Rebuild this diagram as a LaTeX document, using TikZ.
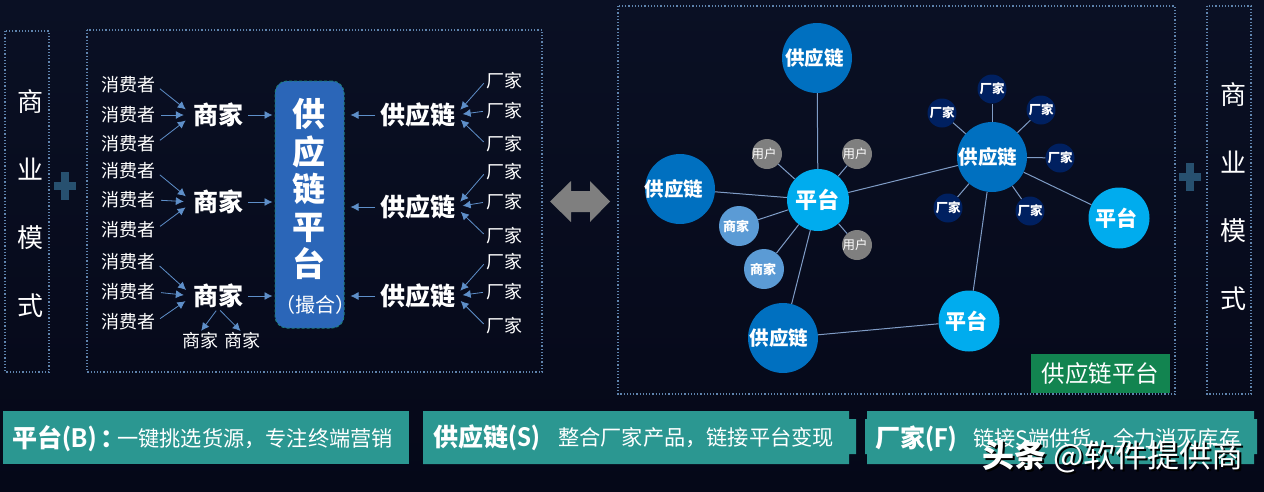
\documentclass[tikz,border=0pt]{standalone}
\usepackage{fontspec}
\setmainfont{Noto Sans CJK SC}
\newfontfamily\latinfont{Carlito}
\usetikzlibrary{arrows.meta}
\definecolor{bgtop}{HTML}{0A1024}
\definecolor{bgbot}{HTML}{050818}
\definecolor{dotline}{HTML}{5F84AE}
\definecolor{arrowblue}{HTML}{5E8FC9}
\definecolor{linkblue}{HTML}{7F9CC6}
\definecolor{barteal}{HTML}{2B9791}
\definecolor{plusblue}{HTML}{27506F}
\definecolor{supplyblue}{HTML}{0070C0}
\definecolor{platformblue}{HTML}{00ACEE}
\definecolor{shopblue}{HTML}{5B9BD5}
\definecolor{usergray}{HTML}{7F7F7F}
\definecolor{makerblue}{HTML}{002060}
\definecolor{hubblue}{HTML}{2B66B8}
\definecolor{hubedge}{HTML}{1E7D7D}
\definecolor{tagreen}{HTML}{128450}
\newcommand{\fs}[1]{\fontsize{#1}{#1}\selectfont}
\newcommand{\lab}[2]{\makebox[0pt][c]{#2\kern#1pt}}
\begin{document}
\begin{tikzpicture}[x=1pt,y=-1pt]
    \tikzstyle{every node}=[inner sep=0pt, text=white];
    \tikzstyle{frame}=[draw=dotline, line width=1.2pt, dotted];
    \tikzstyle{conn}=[draw=arrowblue, line width=0.8pt, -{Latex[length=8pt,width=8pt]}];
    \tikzstyle{link}=[draw=linkblue, line width=1pt];
    \tikzstyle{small}=[font=\fs{18}, yshift=-1pt];
    \tikzstyle{head}=[font=\fs{25}\bfseries];
    \tikzstyle{vtext}=[font=\fontsize{26}{68}\selectfont, align=center];
    \tikzstyle{bartext}=[font=\fs{21.2}, anchor=west];
    \tikzstyle{barhead}=[font=\fs{25}\bfseries, anchor=west];
    \tikzstyle{ball}=[shape=circle];
    \tikzstyle{supply}=[ball, fill=supplyblue, minimum size=70pt, font=\fs{19.5}\bfseries];
    \tikzstyle{platform}=[ball, fill=platformblue, font=\fs{22}\bfseries];
    \tikzstyle{shop}=[ball, fill=shopblue, minimum size=40pt, font=\fs{13}\bfseries];
    \tikzstyle{user}=[ball, fill=usergray, minimum size=30pt, font=\fs{12.5}];
    \tikzstyle{maker}=[ball, fill=makerblue, minimum size=29pt, font=\fs{12.5}\bfseries];
    \tikzstyle{plusmark}=[draw=plusblue, line width=8pt];
    % background
    \shade[top color=bgtop, bottom color=bgbot] (0,0) rectangle (1264,491);
    \useasboundingbox (0,0) rectangle (1264,491);
    % frames
    \draw[frame] (5,31) rectangle (49,372);
    \draw[frame] (87,30) rectangle (542,372);
    \draw[frame] (618,6) rectangle (1175,394);
    \draw[frame] (1207,6) rectangle (1251,394);
    \node[vtext] (lmodel) at (30,204) {商\\业\\模\\式};
    \node[vtext] (rmodel) at (1233,197) {商\\业\\模\\式};
    \draw[plusmark] (54,186)--(76,186);
    \draw[plusmark] (65,172)--(65,200);
    \draw[plusmark] (1179,177)--(1201,177);
    \draw[plusmark] (1190,163)--(1190,191);
    % left part
    \node[small] (c1) at (128,84) {消费者};
    \node[small] (c2) at (128,114) {消费者};
    \node[small] (c3) at (128,143) {消费者};
    \node[small] (c4) at (128,170) {消费者};
    \node[small] (c5) at (128,199) {消费者};
    \node[small] (c6) at (128,229) {消费者};
    \node[small] (c7) at (128,261) {消费者};
    \node[small] (c8) at (128,291) {消费者};
    \node[small] (c9) at (128,321) {消费者};
    \node[head] (s1) at (218,115) {商家};
    \node[head] (s2) at (218,202) {商家};
    \node[head] (s3) at (218,296) {商家};
    \node[small] (s4) at (200,340) {商家};
    \node[small] (s5) at (242,340) {商家};
    \node[draw=hubedge, densely dashed, line width=1pt, fill=hubblue, rounded corners=12pt, minimum width=69pt, minimum height=247pt] (hub) at (309.5,204.5) {};
    \node[font=\fontsize{33}{37.5}\selectfont\bfseries, align=center] (hubtext) at (309,189) {供\\应\\链\\平\\台};
    \node[font=\fs{20}] (hubnote) at (315,305) {（撮合）};
    \node[head] (g1) at (418,115) {供应链};
    \node[head] (g2) at (418,207) {供应链};
    \node[head] (g3) at (418,296) {供应链};
    \node[small] (f1) at (504,80) {厂家};
    \node[small] (f2) at (504,110) {厂家};
    \node[small] (f3) at (504,143) {厂家};
    \node[small] (f4) at (504,171) {厂家};
    \node[small] (f5) at (504,201) {厂家};
    \node[small] (f6) at (504,235) {厂家};
    \node[small] (f7) at (504,261) {厂家};
    \node[small] (f8) at (504,291) {厂家};
    \node[small] (f9) at (504,325) {厂家};
    \draw[conn, shorten <=6pt, shorten >=9pt] (c1.east)--(s1.west);
    \draw[conn, shorten <=6pt, shorten >=9pt] (c2.east)--(s1.west);
    \draw[conn, shorten <=6pt, shorten >=9pt] (c3.east)--(s1.west);
    \draw[conn, shorten <=6pt, shorten >=9pt] (c4.east)--(s2.west);
    \draw[conn, shorten <=6pt, shorten >=9pt] (c5.east)--(s2.west);
    \draw[conn, shorten <=6pt, shorten >=9pt] (c6.east)--(s2.west);
    \draw[conn, shorten <=6pt, shorten >=9pt] (c7.east)--(s3.west);
    \draw[conn, shorten <=6pt, shorten >=9pt] (c8.east)--(s3.west);
    \draw[conn, shorten <=6pt, shorten >=9pt] (c9.east)--(s3.west);
    \draw[conn, shorten <=5pt, shorten >=2pt] (s1.east)--(hub.west |- s1.east);
    \draw[conn, shorten <=5pt, shorten >=2pt] (s2.east)--(hub.west |- s2.east);
    \draw[conn, shorten <=5pt, shorten >=2pt] (s3.east)--(hub.west |- s3.east);
    \draw[conn, shorten <=5pt, shorten >=6pt] (g1.west)--(hub.east |- g1.west);
    \draw[conn, shorten <=5pt, shorten >=6pt] (g2.west)--(hub.east |- g2.west);
    \draw[conn, shorten <=5pt, shorten >=6pt] (g3.west)--(hub.east |- g3.west);
    \draw[conn, shorten <=3pt, shorten >=7pt] (f1.west)--(g1.east);
    \draw[conn, shorten <=3pt, shorten >=7pt] (f2.west)--(g1.east);
    \draw[conn, shorten <=3pt, shorten >=7pt] (f3.west)--(g1.east);
    \draw[conn, shorten <=3pt, shorten >=7pt] (f4.west)--(g2.east);
    \draw[conn, shorten <=3pt, shorten >=7pt] (f5.west)--(g2.east);
    \draw[conn, shorten <=3pt, shorten >=7pt] (f6.west)--(g2.east);
    \draw[conn, shorten <=3pt, shorten >=7pt] (f7.west)--(g3.east);
    \draw[conn, shorten <=3pt, shorten >=7pt] (f8.west)--(g3.east);
    \draw[conn, shorten <=3pt, shorten >=7pt] (f9.west)--(g3.east);
    \draw[conn, shorten <=3pt, shorten >=2pt] (s3.south)--(s4.north);
    \draw[conn, shorten <=3pt, shorten >=2pt] (s3.south)--(s5.north);
    % double arrow
    \fill[usergray] (550,201.5)--(571,181)--(571,191)--(590,191)--(590,181)--(610,201.5)--(590,222)--(590,212)--(571,212)--(571,222)--cycle;
    % right part
    \node[supply] (n1) at (817,58) {\lab{5}{供应链}};
    \node[supply] (n2) at (680,189) {\lab{12}{供应链}};
    \node[supply] (n3) at (783,338) {\lab{8}{供应链}};
    \node[supply] (n4) at (992,157) {\lab{8}{供应链}};
    \node[platform, minimum size=62pt] (p1) at (818,200) {\lab{2}{平台}};
    \node[platform, minimum size=61pt, font=\fs{21}\bfseries] (p2) at (969,321) {\lab{6}{平台}};
    \node[platform, minimum size=61pt, font=\fs{21}\bfseries] (p3) at (1119,218) {\lab{5}{平台}};
    \node[user] (u1) at (767,154) {\lab{6}{用户}};
    \node[user] (u2) at (857,154) {\lab{4}{用户}};
    \node[user] (u3) at (857,245) {\lab{4}{用户}};
    \node[shop] (h1) at (739,226) {\lab{6}{商家}};
    \node[shop] (h2) at (764,269) {\lab{2}{商家}};
    \node[maker] (m1) at (942,113) {厂家};
    \node[maker] (m2) at (992,89) {厂家};
    \node[maker] (m3) at (1041,110) {厂家};
    \node[maker] (m4) at (1060,158) {厂家};
    \node[maker] (m5) at (948,208) {厂家};
    \node[maker] (m6) at (1030,211) {厂家};
    \draw[link] (n1)--(p1);
    \draw[link] (n2)--(p1);
    \draw[link] (n3)--(p1);
    \draw[link] (n4)--(p1);
    \draw[link] (u1)--(p1);
    \draw[link] (u2)--(p1);
    \draw[link] (u3)--(p1);
    \draw[link] (h1)--(p1);
    \draw[link] (h2)--(p1);
    \draw[link] (n3)--(p2);
    \draw[link] (n4)--(p2);
    \draw[link] (n4)--(p3);
    \draw[link] (n4)--(m1);
    \draw[link] (n4)--(m2);
    \draw[link] (n4)--(m3);
    \draw[link] (n4)--(m4);
    \draw[link] (n4)--(m5);
    \draw[link] (n4)--(m6);
    \node[fill=tagreen, minimum width=139pt, minimum height=39pt, font=\fs{23.5}] (tag) at (1100.5,373.5) {供应链平台};
    % bottom bars
    \fill[barteal] (3,411) rectangle (409,464);
    \fill[barteal] (423,411)--(849,411)--(849,419)--(856,419)--(856,454)--(849,454)--(849,464)--(423,464)--cycle;
    \fill[barteal] (867,411)--(1254,411)--(1254,419)--(1257,419)--(1257,454)--(1254,454)--(1254,464)--(867,464)--(867,454)--(865,454)--(865,419)--(867,419)--cycle;
    \node[barhead] (b1) at (12,439) {平台{\latinfont\fontsize{29}{29}\selectfont (B)}\,：};
    \node[bartext] (b1t) at (117,439) {一键挑选货源，专注终端营销};
    \node[barhead] (b2) at (433,438) {供应链{\latinfont\fontsize{29}{29}\selectfont (S)}};
    \node[bartext] (b2t) at (558,438) {整合厂家产品，链接平台变现};
    \node[barhead] (b3) at (875,439) {厂家{\latinfont\fontsize{29}{29}\selectfont (F)}};
    \node[bartext] (b3t) at (973,439) {链接S端供货，全力消灭库存};
    % watermark
    \node[anchor=west, font=\fs{32}, text=black] (marks) at (984,459) {\textbf{头条} @软件提供商};
    \node[anchor=west, font=\fs{32}] (mark) at (982,457) {\textbf{头条} @软件提供商};
\end{tikzpicture}
\end{document}
